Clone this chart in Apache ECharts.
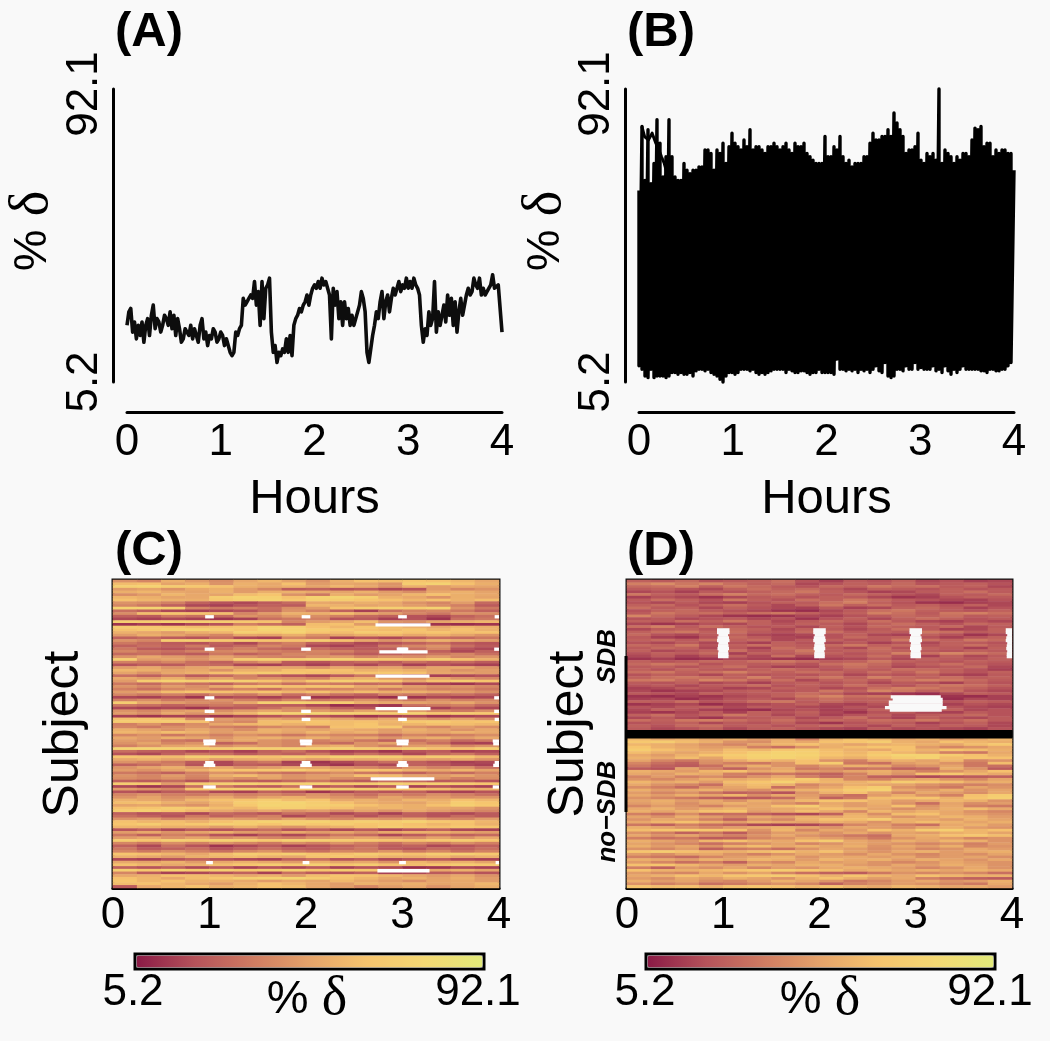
<!DOCTYPE html>
<html><head><meta charset="utf-8">
<style>html,body{margin:0;padding:0;background:#f9f9f9}#c{width:1050px;height:1041px}</style>
<script src="https://cdn.jsdelivr.net/npm/echarts@6/dist/echarts.min.js"></script>
</head><body><div id="c"></div>
<script>
const hourTicks = [0, 1, 2, 3, 4];
const deltaTicks = [5.2, 92.1];
const lineA = [22,26,27,20,23,18,22,19,23,17,22,24,19,25,28,21,24,23,20,22,25,24,22,26,21,25,
19,24,21,17,18,21,20,19,22,18,21,19,17,22,24,18,20,16,19,18,21,20,17,18,20,19,16,18,16,14,13,
14,20,19,21,22,30,28,29,30,31,30,35,28,32,22,35,24,33,34,36,20,14,16,11,14,13,15,14,18,14,19,13,22,24,25,27,26,28,29,31,28,31,33,
34,33,35,33,36,34,35,33,31,18,33,28,32,24,29,22,29,24,27,22,25,22,24,26,28,32,30,26,14,11,11,19,22,26,24,29,32,24,29,31,26,30,33,31,33,35,32,34,33,36,33,35,33,36,34,33,31,22,17,21,19,26,22,24,35,20,26,22,25,28,23,31,25,30,22,29,20,26,30,25,28,31,33,31,32,36,34,33,36,31,33,31,32,32,34,37,33,33,34,27,20];
const upperB = [62,81,65,80,64,70,83,76,66,72,83,72,66,65,65,70,68,67,68,68,69,69,74,74,73,68,74,73,76,70,75,79,76,75,74,77,75,80,74,75,75,74,73,75,75,76,75,74,75,76,74,73,76,75,75,76,73,72,71,70,70,70,78,72,72,75,74,78,72,70,71,69,70,70,70,72,72,76,79,77,77,78,78,80,78,85,82,80,78,73,74,74,75,79,71,70,73,72,73,71,92.1,70,74,73,72,70,72,71,73,73,72,77,80.5,80,81,75,76,76,72,74,73,74,74,73,73,68];
const lowerB = [10,9,7,6.5,9,6.5,7,7,7,6.5,7,8,8,7.5,8,7.5,7.5,8,7,8.5,9,9,8.5,9,8,7.5,7,6,5.2,7,8,8,7.5,8,9,9,9,8.5,9,8,7.5,8,7.5,8,8.5,9,9,9,9,8,9,8.5,8,8,8.5,8.5,8,7.5,8,8,9,8,8,8,8,7.5,12,9,9,8.5,9,8.5,9,8,9,8.5,9,8,9,10,8.5,8,11,7,6.5,7,9,9,8.5,10,9,9,11,9,9.5,9,9,9,10,8.5,9,8,10,8.5,7.5,9,8,9,10,9,9,9,9,9,8.5,8.5,8,9,9,8.5,8.5,9,9,10,11];
const traceB = [[0.03,81],[0.06,78],[0.1,77],[0.14,79],[0.18,76],[0.2,75],[0.24,72],[0.27,70],[0.31,66]];
const heatRowsC = [
[43,38,54,46,41,51,57,49,43,54,62,60,64,62,57,51],[60,62,49,54,43,55,51,62,46,51,49,43,69,73,62,54],[71,73,69,66,62,54,51,55,49,57,51,43,54,46,51,49],[46,49,43,51,54,46,38,23,25,20,23,17,20,46,38,43],
[54,57,51,49,55,46,54,55,51,49,55,46,41,51,55,49],[41,46,57,51,49,60,64,43,33,54,46,49,57,62,54,51],[57,54,49,51,69,73,71,62,73,75,71,55,51,43,54,49],[62,57,55,54,66,71,73,66,71,69,64,62,57,62,55,60],
[43,41,36,25,20,17,23,28,51,49,54,51,43,38,46,28],[38,33,25,17,15,20,25,23,57,55,49,51,46,41,36,23],[73,75,71,38,33,36,30,41,46,62,69,71,69,73,43,33],[30,25,17,15,17,20,28,43,36,25,15,30,36,38,33,25],
[41,60,64,62,60,38,46,55,54,60,51,46,38,33,43,41],[25,23,33,30,28,43,38,46,41,36,28,25,20,17,25,30],[17,15,17,15,12,15,30,33,36,20,23,15,20,12,30,33],[71,69,73,71,69,66,62,38,46,51,60,43,41,49,54,57],
[12,15,12,17,20,36,30,25,60,62,46,12,10,12,10,12],[69,66,64,60,62,64,73,71,62,57,64,60,55,51,57,54],[62,66,71,73,69,64,75,73,69,66,62,60,64,57,62,55],[55,51,46,54,57,71,69,73,64,60,69,66,62,64,60,62],
[46,54,49,43,38,51,49,54,43,49,54,57,51,55,49,43],[25,28,23,20,30,17,15,38,33,15,20,17,23,30,28,33],[43,38,69,71,66,69,64,62,69,62,51,43,49,55,51,46],[33,28,23,20,25,17,30,36,25,23,17,20,25,30,23,20],
[25,30,25,33,23,28,38,33,17,15,20,33,38,43,30,23],[33,23,20,25,30,36,28,25,30,25,23,25,30,38,20,17],[38,33,30,36,38,41,36,33,38,36,28,30,36,25,17,25],[28,30,25,23,33,25,30,38,36,28,23,25,30,33,38,30],
[43,51,46,41,49,43,38,36,43,46,38,43,41,46,38,43],[71,46,49,43,51,69,73,71,75,73,69,66,62,69,62,54],[36,33,38,30,25,36,43,23,20,25,28,23,30,25,28,23],[20,25,23,30,28,17,15,20,15,23,17,25,15,20,17,15],
[46,51,43,49,54,46,51,49,43,51,46,49,41,49,51,43],[57,54,49,51,43,55,54,62,64,62,55,57,54,49,43,46],[49,43,51,55,62,64,69,66,62,60,64,66,62,51,49,46],[30,25,33,23,28,36,25,20,17,23,33,28,17,15,17,20],
[51,46,54,43,49,38,43,41,36,51,55,46,41,49,43,38],[46,69,73,71,73,71,64,54,66,71,69,64,51,62,69,64],[33,28,36,30,25,33,38,30,36,33,28,30,17,15,12,17],[43,38,46,41,51,62,66,62,64,62,51,55,46,41,43,38],
[36,30,38,43,33,38,30,43,36,38,43,33,41,36,38,33],[46,51,60,64,62,60,64,57,62,55,60,54,55,51,46,41],[38,33,36,30,38,33,43,30,36,30,25,36,33,28,30,25],[17,15,20,12,17,20,15,20,12,15,17,10,12,17,15,17],
[36,41,33,38,43,36,30,38,33,36,43,38,33,41,36,38],[69,51,46,41,38,51,71,73,71,69,54,51,49,46,51,43],[33,30,25,30,33,28,25,23,17,10,15,12,30,33,36,28],[17,15,17,12,20,23,30,38,33,25,20,15,17,15,23,17],
[43,38,46,49,41,46,51,43,46,41,49,43,46,38,33,41],[46,41,51,43,49,57,71,73,75,73,71,69,73,64,69,66],[15,12,15,17,12,17,20,25,20,17,12,15,17,12,15,17],[62,64,60,38,46,43,51,46,54,49,43,51,46,43,49,41],
[69,66,69,62,43,38,60,62,64,60,62,57,66,69,62,64],[36,43,33,41,51,57,60,55,62,60,64,55,57,62,60,57],[38,33,41,43,36,33,38,43,36,62,64,66,43,38,46,41],[54,49,43,51,46,41,55,51,49,55,51,46,54,49,43,51],
[57,54,60,55,46,51,54,49,57,51,55,46,51,49,55,51],[38,43,33,41,36,43,38,33,41,38,36,30,38,33,36,41],[51,46,54,49,43,51,55,49,54,46,51,43,49,54,46,51],
[46,43,33,30,46,51,43,38,36,41,33,25,30,36,28,33],[43,49,38,43,25,30,43,38,33,28,43,49,38,30,17,15],[36,43,49,51,41,46,43,38,51,55,43,36,46,49,38,43],[75,75,73,71,69,73,71,73,71,73,69,66,73,62,62,69],
[30,25,23,17,20,15,25,30,20,15,17,12,20,23,15,17],[20,17,25,33,30,23,28,25,33,23,30,25,17,28,33,25],[64,62,60,71,69,66,62,69,64,73,71,69,62,69,66,57],[51,55,49,54,46,51,55,51,46,54,51,55,49,46,51,43],
[43,38,33,23,17,28,33,15,12,17,23,30,25,20,15,17],[25,30,36,20,17,25,23,17,15,12,20,17,25,23,17,15],[43,49,54,46,51,41,46,51,49,43,38,33,43,36,41,30],[46,43,49,55,62,64,66,69,62,57,64,62,55,51,57,49],
[33,30,25,36,43,38,33,30,36,41,33,30,25,33,28,36],[43,38,46,38,54,60,51,43,46,49,62,60,49,46,51,43],[41,38,43,36,46,41,49,43,46,41,38,43,38,43,36,41],[25,23,28,20,30,25,23,28,33,25,23,30,28,23,25,20],
[69,66,46,69,71,73,69,71,73,66,69,73,69,71,69,64],[17,12,17,30,33,25,23,30,20,25,17,23,15,20,17,15],[46,43,38,64,69,71,73,66,69,71,69,66,62,60,55,54],[20,17,23,25,17,15,25,20,12,17,23,20,25,17,15,20],
[38,43,36,33,41,36,38,33,43,36,30,38,33,41,36,30],[43,49,41,46,51,43,49,54,46,43,38,49,43,46,41,43],[55,51,46,57,62,64,69,60,64,51,55,49,57,54,62,57],[60,62,54,49,57,69,73,75,69,62,54,51,49,57,69,64],
[49,51,46,43,54,66,75,73,71,69,62,57,54,62,71,66],[62,64,69,66,60,57,69,71,66,62,55,57,54,51,49,43],[69,71,64,57,51,46,51,43,46,41,49,43,51,46,43,38],[25,20,23,17,28,25,20,30,25,17,23,15,25,20,17,23],
[30,25,20,33,25,30,36,17,25,30,20,28,25,20,28,23],[43,46,38,43,49,46,41,49,43,38,46,43,49,41,38,46],[62,57,60,55,62,69,73,71,73,69,71,69,73,66,64,57],[64,69,62,66,71,69,64,71,66,69,64,66,62,57,62,55],
[57,55,54,51,46,54,46,43,51,55,62,69,64,62,66,64],[20,25,17,23,20,25,30,20,25,17,23,15,20,25,17,15],[46,51,43,49,54,46,43,51,46,49,43,51,55,54,49,46],[33,25,36,30,20,15,23,17,25,33,28,17,23,30,25,28],
[46,51,43,49,41,46,38,36,43,46,51,46,41,49,43,51],[69,64,71,69,73,71,66,73,71,69,66,64,62,66,69,64],[38,33,41,36,43,38,33,41,36,43,36,30,38,33,41,36],[25,17,30,20,12,17,23,15,20,25,30,23,25,17,20,25],
[33,23,25,30,20,25,30,25,23,28,33,23,20,28,25,30],[38,33,41,36,30,38,43,33,30,38,36,43,33,38,30,36],[64,62,57,51,60,69,66,71,64,62,69,64,62,69,71,66],[55,51,46,54,57,60,55,51,62,64,60,55,54,57,51,55],
[17,15,20,25,20,17,15,25,30,20,25,17,20,23,17,15],[51,49,55,46,51,55,51,46,54,49,51,43,57,51,55,49],[62,57,51,55,60,64,69,66,71,64,69,62,60,64,69,66],[25,20,25,17,23,15,20,17,23,15,20,17,10,12,17,15],
[71,66,73,69,71,66,69,71,64,69,66,69,64,51,55,49],[38,23,15,17,20,25,15,30,23,20,25,15,17,23,25,20],[51,55,62,60,57,51,55,46,60,64,62,57,51,46,51,43],[62,57,51,60,64,71,73,75,69,62,57,51,55,49,54,46],
[64,57,62,55,54,51,46,51,49,57,51,46,41,49,51,46],[60,62,57,51,46,55,62,57,51,46,55,51,54,49,51,57],[23,51,57,62,54,57,62,60,51,46,38,46,51,43,49,54]
];
const heatRowsSDB = [
[25,23,28,20,23,25,30,20,15,23,20,25,17,20,15,17],[36,41,33,38,30,25,28,17,20,25,23,28,20,23,25,20],[28,30,36,25,33,28,23,20,28,25,33,28,30,23,25,17],[23,25,20,17,25,30,25,28,23,17,25,23,20,25,20,23],
[17,20,15,23,20,25,28,33,25,20,15,17,23,25,30,23],[33,25,23,30,36,28,30,25,23,28,25,20,17,25,23,28],[15,20,17,12,17,23,25,20,25,23,17,12,15,20,25,23],[23,30,25,20,33,25,20,30,25,33,28,23,20,17,15,20],
[20,17,23,17,15,20,25,23,30,36,25,20,12,10,15,17],[25,28,20,25,30,23,17,25,33,25,30,23,25,20,25,17],[30,23,25,17,25,20,17,15,23,15,17,25,28,23,15,20],[20,25,28,23,20,17,12,10,17,23,30,33,25,23,20,25],
[23,33,28,30,25,30,33,25,20,25,36,30,23,33,36,30],[38,28,23,17,12,10,12,17,15,20,23,28,25,30,23,25],[20,23,17,20,23,17,20,12,20,25,17,25,30,25,20,23],[25,23,30,25,33,25,17,23,28,23,30,23,17,15,20,17],
[17,12,15,20,17,25,20,25,23,17,25,30,25,20,28,25],[30,36,23,30,25,20,23,17,25,20,28,25,23,28,17,23],[17,23,25,20,28,25,17,25,23,17,23,30,23,15,17,25],[25,30,33,25,30,23,20,28,30,23,25,23,33,30,23,25],
[28,20,17,23,25,17,15,17,20,25,17,15,25,20,12,17],[23,15,12,20,28,23,17,15,20,28,23,25,20,15,20,25],[25,28,23,30,25,28,17,23,25,20,23,33,30,25,33,28],[20,17,23,17,20,15,25,20,17,23,15,20,17,25,23,20],
[28,25,33,20,25,30,25,23,28,33,25,28,20,25,30,23],[23,28,25,17,23,15,30,25,23,17,30,20,25,23,15,25],[25,17,20,25,30,20,25,33,23,25,28,25,23,20,25,23],[20,25,23,28,15,25,23,28,25,20,25,36,30,38,33,28],
[17,23,15,20,25,17,30,17,20,23,30,20,15,25,17,23],[12,15,10,12,17,15,12,10,15,17,23,17,25,23,20,25],[25,20,23,28,25,30,33,28,23,25,33,25,23,20,25,23],[28,33,30,20,25,23,25,20,30,33,28,20,25,30,23,20],
[23,25,20,25,30,20,15,17,23,30,25,17,20,23,28,17],[25,20,28,23,20,25,30,25,20,25,23,30,28,25,20,15],[30,33,25,30,36,28,25,30,28,23,30,25,33,25,20,25],[20,25,23,17,25,20,23,20,25,17,23,20,25,17,15,23],
[25,30,33,30,25,36,23,28,33,25,36,28,25,30,23,25],[33,36,28,38,33,25,30,17,25,28,23,30,36,33,28,23],[23,20,25,17,20,15,23,25,20,25,17,23,20,15,25,20],[20,23,17,23,25,30,20,25,23,30,25,20,28,33,30,25],
[15,17,23,20,15,17,25,23,17,20,30,36,33,28,25,20],[17,12,15,17,23,25,20,23,33,25,38,33,25,30,20,17],[23,20,17,25,20,23,25,30,25,17,15,12,10,17,25,23],[12,10,15,12,17,20,25,33,38,30,33,25,15,12,10,15],
[15,17,10,15,20,23,17,25,30,25,25,20,12,10,17,15],[25,23,30,20,23,30,33,23,28,23,25,20,17,20,25,23],[12,15,17,10,15,17,20,25,17,15,20,12,17,15,20,17],[20,17,23,25,17,23,20,17,15,20,17,23,25,20,17,15],
[17,25,20,15,12,10,17,20,15,17,25,20,28,25,17,20],[15,12,17,23,15,25,20,25,17,12,20,23,17,15,23,20],[25,30,20,25,33,25,17,23,15,20,25,17,23,25,28,20],[17,23,17,12,20,23,25,17,23,30,20,15,25,20,17,23],
[30,25,33,36,30,25,30,23,28,25,30,28,33,25,30,23],[20,23,25,17,23,20,25,17,12,20,25,23,15,20,25,17],[25,20,28,30,23,25,20,25,28,23,17,25,20,25,23,17],[23,17,20,25,17,23,25,20,17,15,23,17,20,17,15,20]
];
const heatRowsNoSDB = [
[57,51,55,49,54,46,51,36,55,62,57,51,55,46,51,57],[66,69,60,54,43,41,55,51,62,64,69,55,51,62,57,54],[57,54,49,43,38,49,57,62,55,49,54,57,54,51,60,66],[64,55,51,46,49,36,30,43,54,60,64,62,46,38,43,51],
[69,62,55,51,60,57,64,69,60,55,51,62,55,64,60,54],[60,54,49,55,62,69,73,71,62,57,64,57,49,36,33,51],[51,46,55,64,69,73,75,73,64,60,69,75,73,69,62,55],[55,51,60,49,64,71,73,69,57,54,62,69,73,60,64,62],
[49,38,33,43,51,60,55,62,43,36,51,54,49,57,38,43],[38,30,25,41,36,33,43,62,69,33,30,46,51,43,33,60],[33,25,23,30,46,54,43,38,46,55,51,38,43,49,33,30],[23,20,49,36,25,43,51,33,38,30,33,25,28,54,43,23],
[55,51,46,57,62,51,55,46,43,49,54,46,36,43,51,62],[51,46,55,51,36,30,33,28,25,36,51,43,62,66,57,51],[38,46,36,41,33,43,51,36,28,38,25,23,17,20,23,25],[43,38,46,54,51,55,60,69,55,38,36,46,51,43,38,49],
[57,51,55,46,60,64,73,62,57,55,60,69,64,60,51,54],[51,43,38,30,54,60,55,38,46,54,51,49,43,38,36,41],[41,36,28,43,49,57,30,43,51,62,69,43,38,33,49,43],[54,46,51,55,46,41,51,55,60,69,73,51,46,54,43,49],
[46,38,43,33,25,28,20,43,55,62,49,38,51,46,41,51],[51,46,54,49,57,41,51,46,38,30,46,54,43,36,62,69],[43,38,33,25,20,23,28,49,25,33,60,62,64,55,64,71],[49,54,46,51,43,54,49,57,64,62,55,46,51,57,54,43],
[46,51,41,49,55,49,43,36,51,46,54,43,30,49,41,46],[38,46,43,36,46,51,62,69,54,46,51,62,43,51,36,33],[51,55,46,54,57,49,51,55,62,57,49,41,46,54,60,51],[54,49,55,62,64,46,51,60,51,38,57,49,55,51,43,38],
[36,30,41,28,30,25,20,17,25,54,41,60,62,51,46,43],[49,43,54,46,38,51,46,54,51,57,51,43,49,57,54,46],[43,51,46,36,25,43,38,55,62,60,69,54,51,46,55,49],[51,57,62,54,46,55,51,49,55,51,43,54,60,55,49,54],
[33,25,36,30,25,17,15,17,23,38,46,36,30,51,55,46],[54,49,43,38,46,51,55,49,43,51,46,41,49,54,46,43],[60,64,69,66,62,43,57,38,51,46,62,55,69,71,57,62],[43,36,25,33,23,38,46,49,43,51,43,49,46,54,57,49],
[51,43,49,41,36,43,51,43,38,33,30,51,54,62,66,60],[36,30,33,23,25,38,43,51,46,41,33,43,51,46,38,43],[54,49,43,57,62,55,51,62,69,51,46,54,49,57,54,43],[49,43,38,30,36,43,49,38,43,51,46,43,38,43,36,46],
[54,46,51,43,55,60,51,55,49,54,43,51,46,54,38,43],[43,38,46,25,33,36,30,43,51,46,41,46,38,43,51,46],[64,69,62,57,54,60,64,55,62,49,43,51,55,46,51,54],[46,41,49,51,43,36,43,51,46,41,51,43,38,46,41,49],
[36,33,28,38,46,51,55,43,49,51,46,51,41,46,49,41],[54,51,46,55,49,57,54,46,57,51,55,46,54,49,43,51],[46,38,30,36,25,43,38,51,46,49,43,38,43,51,46,43],[62,64,57,51,46,54,49,55,54,46,43,51,46,54,49,43],
[36,25,46,41,49,38,46,43,51,55,51,46,38,43,51,43],[62,55,54,57,62,66,69,64,60,51,55,49,54,49,55,51],[46,41,38,51,43,49,38,30,25,23,33,43,38,43,38,30],[51,55,62,57,64,66,69,62,55,64,57,51,62,57,54,55],
[46,41,51,46,54,49,43,55,62,54,46,51,36,30,25,23],[54,46,49,41,38,46,55,49,43,33,38,46,51,43,46,54],[43,36,41,30,33,38,43,38,25,36,41,46,43,38,33,51],[64,60,62,55,62,64,62,57,62,55,51,57,55,49,51,46]
];
const hourGapsC = [[13,.045],[25,.05],[43,.05],[48,.05],[51,.045],[59,.065],[60,.06],[67,.045],[68,.06],[76,.065],[104,.035]];
const longGapsC = [[16,2.72,3.29],[26,2.76,3.26],[25,2.94,3.06],[35,2.72,3.28],[47,2.72,3.29],[73,2.67,3.33],[107,2.74,3.28]];
const hourGapsD = [[18,.065],[19,.065],[20,.05],[21,.06],[22,.065],[23,.05],[24,.055],[25,.06],[26,.05],[27,.055],[28,.055]];
const longGapsD = [[43,2.74,3.26],[44,2.76,3.28],[45,2.72,3.28],[46,2.72,3.28],[47,2.68,3.32],[48,2.73,3.27]];
const separatorRows = [56, 57, 58];
const colorStops = ['#8a1a46','#b5525a','#cf7b62','#e5a36a','#f6c46e','#f4d873','#e2ea7a'];

const BG = '#f9f9f9', SANS = '"Liberation Sans", Arial, sans-serif';
const deltaRich = { a:{fontFamily:SANS,fontSize:47,color:'#000'}, b:{fontFamily:'"Liberation Serif",serif',fontSize:54,color:'#000'} };
const DELTA = '{a|% }{b|δ}';
const catC = heatRowsC.map(() => '');
const catD = Array.from({length:heatRowsSDB.length + separatorRows.length + heatRowsNoSDB.length}, () => '');
catD[28] = 'SDB'; catD[86] = 'no\u2212SDB';
const colIdx = heatRowsC[0].map((_, i) => String(i));

function cells(rows, off) { const out = []; rows.forEach((r, y) => r.forEach((v, x) => out.push([x, y + off, v]))); return out; }
function gapList(hourGaps, longGaps) {
  const out = [];
  hourGaps.forEach(([r, w]) => [1, 2, 3, 4].forEach(h => out.push([h - w, Math.min(4, h + w), r])));
  longGaps.forEach(([r, a, b]) => out.push([a, b, r]));
  return out;
}
const renderBlock = fill => (params, api) => {
  const p0 = api.coord([api.value(0), api.value(2)]), p1 = api.coord([api.value(1), api.value(2)]);
  const h = api.size([0, 1])[1];
  return { type:'rect', shape:{ x:p0[0], y:p0[1] - h / 2, width:p1[0] - p0[0], height:h + 0.6 }, style:{ fill } };
};
const blockSeries = (idx, axis, data, fill) => ({ type:'custom', xAxisIndex:axis, yAxisIndex:idx, data, encode:{x:[0,1], y:2}, renderItem:renderBlock(fill), silent:true, clip:true, animation:false });

const lineAxisX = g => ({ type:'value', gridIndex:g, min:0, max:4, interval:1, offset:30, splitLine:{show:false}, axisTick:{show:false},
  axisLine:{show:true, onZero:false, lineStyle:{color:'#000', width:3}}, axisLabel:{fontFamily:SANS, fontSize:44, color:'#000', margin:9, showMinLabel:true, showMaxLabel:true},
  name:'Hours', nameLocation:'middle', nameGap:63, nameTextStyle:{fontFamily:SANS, fontSize:49, color:'#000'} });
const lineAxisY = g => ({ type:'value', gridIndex:g, min:5.2, max:92.1, offset:14, splitLine:{show:false}, axisTick:{show:false},
  axisLine:{show:true, onZero:false, lineStyle:{color:'#000', width:3}},
  axisLabel:{customValues:deltaTicks, rotate:90, fontFamily:SANS, fontSize:44, color:'#000', margin:6,
    formatter:v => v > 50 ? '{t|' + v + '}' : String(v), rich:{t:{fontFamily:SANS, fontSize:44, color:'#000', padding:[0,10,0,0]}}} });
const heatGridAxes = g => ([
  { type:'category', gridIndex:g, data:colIdx, show:false },
  { type:'value', gridIndex:g, position:'bottom', min:0, max:4, interval:1, splitLine:{show:false}, axisTick:{show:false},
    axisLine:{show:true, onZero:false, lineStyle:{color:'#000', width:3}}, axisLabel:{fontFamily:SANS, fontSize:44, color:'#000', margin:6} }
]);

const gridList = [
  {left:127, top:89, width:375, height:293}, {left:639, top:89, width:375, height:293},
  {left:113, top:580, width:386, height:308, show:true, borderColor:'#111', borderWidth:3, backgroundColor:'transparent'},
  {left:627, top:580, width:385, height:308, show:true, borderColor:'#111', borderWidth:3, backgroundColor:'transparent'}
];
const heatAxesC = heatGridAxes(2), heatAxesD = heatGridAxes(3);
const text = (t, x, y, size, extra) => ({ type:'text', x, y, silent:true, style:Object.assign({ text:t, fontFamily:SANS, fontSize:size, fill:'#000', align:'center', verticalAlign:'middle' }, extra||{}) });
const visual = (idx, left) => ({ type:'continuous', seriesIndex:idx, min:5.2, max:92.1, dimension:2, orient:'horizontal', left, top:952.5, itemWidth:12, itemHeight:346, calculable:false, hoverLink:false, realtime:false, padding:1.5, borderColor:'#000', borderWidth:3, text:null, inRange:{color:colorStops} });
const yName = x => Object.assign(text(DELTA, x, 231, 46, {rich:deltaRich}), { rotation:Math.PI / 2 });

const option = {
  backgroundColor:BG, animation:false,
  title:[['(A)',115,8],['(B)',627,8],['(C)',115,527],['(D)',627,527]].map(([text,left,top]) => ({ text, left, top, padding:0, textStyle:{fontFamily:SANS, fontWeight:'bold', fontSize:49, color:'#000'} })),
  grid:gridList,
  xAxis:[lineAxisX(0), lineAxisX(1), heatAxesC[0], heatAxesD[0], heatAxesC[1], heatAxesD[1]],
  yAxis:[lineAxisY(0), lineAxisY(1),
    { type:'category', gridIndex:2, inverse:true, data:catC, axisTick:{show:false}, axisLine:{show:false}, axisLabel:{show:false}, name:'Subject', nameLocation:'middle', nameGap:24, nameTextStyle:{fontFamily:SANS, fontSize:50, color:'#000'} },
    { type:'category', gridIndex:3, inverse:true, data:catD, axisTick:{show:false}, axisLine:{show:false}, axisLabel:{interval:0, rotate:90, fontFamily:SANS, fontStyle:'italic', fontWeight:'bold', fontSize:26, color:'#000', margin:6}, name:'Subject', nameLocation:'middle', nameGap:26, nameTextStyle:{fontFamily:SANS, fontSize:50, color:'#000'} }
  ],
  visualMap:[visual(2,133.5), visual(3,644.5)],
  series:[
    { type:'line', xAxisIndex:0, yAxisIndex:0, showSymbol:false, silent:true, clip:false, data:lineA.map((v,i)=>[i*0.02,v]), lineStyle:{color:'#0d0d0d', width:3.6, join:'round'} },
    { type:'line', xAxisIndex:1, yAxisIndex:1, showSymbol:false, silent:true, clip:false, data:upperB.flatMap((v,i)=>{const t=i*4/(upperB.length-1);return [[t,v],[t,lowerB[i]]];}), lineStyle:{color:'#000', width:3.4, join:'round'} },
    { type:'heatmap', xAxisIndex:2, yAxisIndex:2, data:cells(heatRowsC,0), progressive:0, silent:true },
    { type:'heatmap', xAxisIndex:3, yAxisIndex:3, data:cells(heatRowsSDB,0).concat(cells(heatRowsNoSDB,heatRowsSDB.length+separatorRows.length)), progressive:0, silent:true },
    { type:'line', xAxisIndex:1, yAxisIndex:1, showSymbol:false, silent:true, data:traceB, lineStyle:{color:'#000', width:3, join:'round'} },
    blockSeries(2, 4, gapList(hourGapsC,longGapsC), '#ffffff'),
    blockSeries(3, 5, gapList(hourGapsD,longGapsD), '#f9f9f9'),
    blockSeries(3, 5, separatorRows.map(r=>[0,4,r]), '#000')
  ],
  graphic:{ elements:[
    yName(33), yName(546),
    text('5.2',133,993,44), text('92.1',478,993,44), text(DELTA,307,1000,46,{rich:deltaRich}),
    text('5.2',645,993,44), text('92.1',990,993,44), text(DELTA,820,1000,46,{rich:deltaRich}),
    { type:'line', silent:true, shape:{x1:626,y1:656,x2:626,y2:812}, style:{stroke:'#000', lineWidth:3}, z:10 }
  ]}
};
echarts.init(document.getElementById('c'), null, {renderer:'canvas'}).setOption(option);
</script></body></html>
